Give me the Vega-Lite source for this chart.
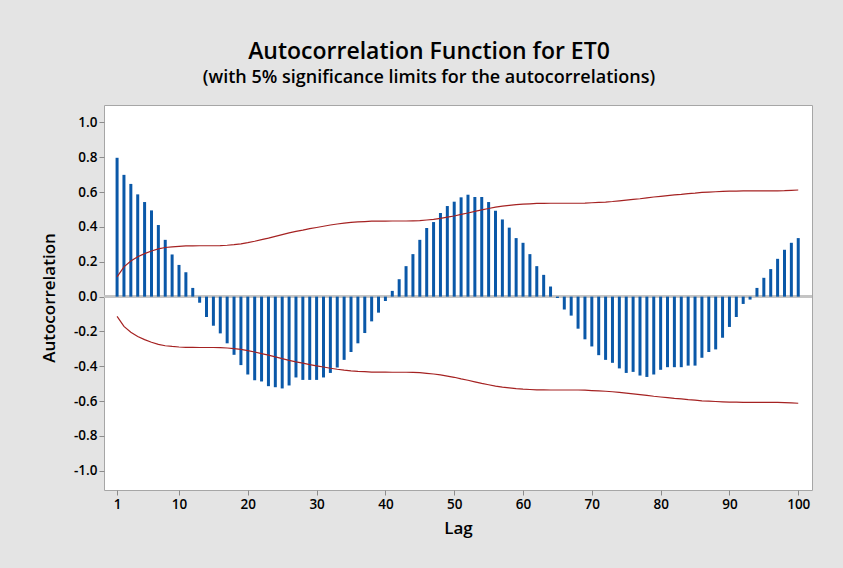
{
  "$schema": "https://vega.github.io/schema/vega-lite/v6.json",
  "width": 708,
  "height": 385,
  "autosize": {"type": "none"},
  "padding": {"left": 104, "top": 105, "right": 31, "bottom": 78},
  "background": "#e4e4e4",
  "title": {
    "text": "Autocorrelation Function for ET0",
    "subtitle": "(with 5% significance limits for the autocorrelations)",
    "anchor": "middle",
    "dx": -29,
    "offset": 18,
    "font": "Open Sans",
    "fontSize": 23,
    "fontWeight": 600,
    "color": "black",
    "subtitleFont": "Open Sans",
    "subtitleFontSize": 18,
    "subtitleFontWeight": 600,
    "subtitleColor": "black",
    "subtitlePadding": 5
  },
  "config": {
    "view": {"fill": "white", "stroke": "#a6a6a6", "strokeWidth": 1},
    "axis": {
      "domain": false,
      "grid": false,
      "tickColor": "#8c8c8c",
      "tickSize": 5,
      "labelFont": "Open Sans",
      "labelFontSize": 13.5,
      "labelFontWeight": 600,
      "labelColor": "black",
      "labelPadding": 2,
      "labelOverlap": false,
      "titleFont": "Open Sans",
      "titleFontSize": 17,
      "titleFontWeight": 600,
      "titleColor": "black"
    }
  },
  "data": {
    "values": [
      {"lag": 1, "acf": 0.797, "upper": 0.113, "lower": -0.113},
      {"lag": 2, "acf": 0.699, "upper": 0.171, "lower": -0.171},
      {"lag": 3, "acf": 0.647, "upper": 0.204, "lower": -0.204},
      {"lag": 4, "acf": 0.587, "upper": 0.229, "lower": -0.229},
      {"lag": 5, "acf": 0.543, "upper": 0.247, "lower": -0.247},
      {"lag": 6, "acf": 0.495, "upper": 0.262, "lower": -0.262},
      {"lag": 7, "acf": 0.411, "upper": 0.274, "lower": -0.274},
      {"lag": 8, "acf": 0.326, "upper": 0.282, "lower": -0.282},
      {"lag": 9, "acf": 0.242, "upper": 0.286, "lower": -0.286},
      {"lag": 10, "acf": 0.182, "upper": 0.289, "lower": -0.289},
      {"lag": 11, "acf": 0.140, "upper": 0.291, "lower": -0.291},
      {"lag": 12, "acf": 0.050, "upper": 0.291, "lower": -0.291},
      {"lag": 13, "acf": -0.035, "upper": 0.292, "lower": -0.292},
      {"lag": 14, "acf": -0.117, "upper": 0.292, "lower": -0.292},
      {"lag": 15, "acf": -0.167, "upper": 0.292, "lower": -0.292},
      {"lag": 16, "acf": -0.211, "upper": 0.293, "lower": -0.293},
      {"lag": 17, "acf": -0.268, "upper": 0.295, "lower": -0.295},
      {"lag": 18, "acf": -0.334, "upper": 0.298, "lower": -0.298},
      {"lag": 19, "acf": -0.393, "upper": 0.303, "lower": -0.303},
      {"lag": 20, "acf": -0.447, "upper": 0.310, "lower": -0.310},
      {"lag": 21, "acf": -0.480, "upper": 0.318, "lower": -0.318},
      {"lag": 22, "acf": -0.487, "upper": 0.327, "lower": -0.327},
      {"lag": 23, "acf": -0.514, "upper": 0.336, "lower": -0.336},
      {"lag": 24, "acf": -0.520, "upper": 0.346, "lower": -0.346},
      {"lag": 25, "acf": -0.527, "upper": 0.356, "lower": -0.356},
      {"lag": 26, "acf": -0.510, "upper": 0.366, "lower": -0.366},
      {"lag": 27, "acf": -0.464, "upper": 0.375, "lower": -0.375},
      {"lag": 28, "acf": -0.478, "upper": 0.382, "lower": -0.382},
      {"lag": 29, "acf": -0.478, "upper": 0.390, "lower": -0.390},
      {"lag": 30, "acf": -0.478, "upper": 0.397, "lower": -0.397},
      {"lag": 31, "acf": -0.464, "upper": 0.404, "lower": -0.404},
      {"lag": 32, "acf": -0.438, "upper": 0.411, "lower": -0.411},
      {"lag": 33, "acf": -0.407, "upper": 0.417, "lower": -0.417},
      {"lag": 34, "acf": -0.363, "upper": 0.422, "lower": -0.422},
      {"lag": 35, "acf": -0.318, "upper": 0.426, "lower": -0.426},
      {"lag": 36, "acf": -0.268, "upper": 0.429, "lower": -0.429},
      {"lag": 37, "acf": -0.209, "upper": 0.431, "lower": -0.431},
      {"lag": 38, "acf": -0.142, "upper": 0.433, "lower": -0.433},
      {"lag": 39, "acf": -0.092, "upper": 0.433, "lower": -0.433},
      {"lag": 40, "acf": -0.025, "upper": 0.433, "lower": -0.433},
      {"lag": 41, "acf": 0.033, "upper": 0.434, "lower": -0.434},
      {"lag": 42, "acf": 0.100, "upper": 0.434, "lower": -0.434},
      {"lag": 43, "acf": 0.175, "upper": 0.434, "lower": -0.434},
      {"lag": 44, "acf": 0.244, "upper": 0.435, "lower": -0.435},
      {"lag": 45, "acf": 0.326, "upper": 0.436, "lower": -0.436},
      {"lag": 46, "acf": 0.394, "upper": 0.440, "lower": -0.440},
      {"lag": 47, "acf": 0.428, "upper": 0.444, "lower": -0.444},
      {"lag": 48, "acf": 0.480, "upper": 0.449, "lower": -0.449},
      {"lag": 49, "acf": 0.520, "upper": 0.456, "lower": -0.456},
      {"lag": 50, "acf": 0.545, "upper": 0.463, "lower": -0.463},
      {"lag": 51, "acf": 0.570, "upper": 0.472, "lower": -0.472},
      {"lag": 52, "acf": 0.585, "upper": 0.480, "lower": -0.480},
      {"lag": 53, "acf": 0.572, "upper": 0.489, "lower": -0.489},
      {"lag": 54, "acf": 0.572, "upper": 0.498, "lower": -0.498},
      {"lag": 55, "acf": 0.543, "upper": 0.506, "lower": -0.506},
      {"lag": 56, "acf": 0.493, "upper": 0.514, "lower": -0.514},
      {"lag": 57, "acf": 0.443, "upper": 0.520, "lower": -0.520},
      {"lag": 58, "acf": 0.396, "upper": 0.524, "lower": -0.524},
      {"lag": 59, "acf": 0.336, "upper": 0.528, "lower": -0.528},
      {"lag": 60, "acf": 0.309, "upper": 0.531, "lower": -0.531},
      {"lag": 61, "acf": 0.244, "upper": 0.533, "lower": -0.533},
      {"lag": 62, "acf": 0.175, "upper": 0.535, "lower": -0.535},
      {"lag": 63, "acf": 0.125, "upper": 0.535, "lower": -0.535},
      {"lag": 64, "acf": 0.058, "upper": 0.536, "lower": -0.536},
      {"lag": 65, "acf": -0.008, "upper": 0.536, "lower": -0.536},
      {"lag": 66, "acf": -0.074, "upper": 0.536, "lower": -0.536},
      {"lag": 67, "acf": -0.109, "upper": 0.536, "lower": -0.536},
      {"lag": 68, "acf": -0.184, "upper": 0.536, "lower": -0.536},
      {"lag": 69, "acf": -0.245, "upper": 0.537, "lower": -0.537},
      {"lag": 70, "acf": -0.286, "upper": 0.539, "lower": -0.539},
      {"lag": 71, "acf": -0.336, "upper": 0.541, "lower": -0.541},
      {"lag": 72, "acf": -0.363, "upper": 0.543, "lower": -0.543},
      {"lag": 73, "acf": -0.380, "upper": 0.546, "lower": -0.546},
      {"lag": 74, "acf": -0.412, "upper": 0.550, "lower": -0.550},
      {"lag": 75, "acf": -0.438, "upper": 0.554, "lower": -0.554},
      {"lag": 76, "acf": -0.432, "upper": 0.558, "lower": -0.558},
      {"lag": 77, "acf": -0.453, "upper": 0.562, "lower": -0.562},
      {"lag": 78, "acf": -0.461, "upper": 0.567, "lower": -0.567},
      {"lag": 79, "acf": -0.447, "upper": 0.572, "lower": -0.572},
      {"lag": 80, "acf": -0.420, "upper": 0.576, "lower": -0.576},
      {"lag": 81, "acf": -0.405, "upper": 0.580, "lower": -0.580},
      {"lag": 82, "acf": -0.405, "upper": 0.584, "lower": -0.584},
      {"lag": 83, "acf": -0.405, "upper": 0.587, "lower": -0.587},
      {"lag": 84, "acf": -0.396, "upper": 0.591, "lower": -0.591},
      {"lag": 85, "acf": -0.396, "upper": 0.594, "lower": -0.594},
      {"lag": 86, "acf": -0.351, "upper": 0.598, "lower": -0.598},
      {"lag": 87, "acf": -0.318, "upper": 0.600, "lower": -0.600},
      {"lag": 88, "acf": -0.303, "upper": 0.602, "lower": -0.602},
      {"lag": 89, "acf": -0.236, "upper": 0.604, "lower": -0.604},
      {"lag": 90, "acf": -0.174, "upper": 0.606, "lower": -0.606},
      {"lag": 91, "acf": -0.117, "upper": 0.606, "lower": -0.606},
      {"lag": 92, "acf": -0.042, "upper": 0.607, "lower": -0.607},
      {"lag": 93, "acf": -0.017, "upper": 0.607, "lower": -0.607},
      {"lag": 94, "acf": 0.050, "upper": 0.607, "lower": -0.607},
      {"lag": 95, "acf": 0.108, "upper": 0.607, "lower": -0.607},
      {"lag": 96, "acf": 0.158, "upper": 0.607, "lower": -0.607},
      {"lag": 97, "acf": 0.217, "upper": 0.607, "lower": -0.607},
      {"lag": 98, "acf": 0.269, "upper": 0.608, "lower": -0.608},
      {"lag": 99, "acf": 0.309, "upper": 0.610, "lower": -0.610},
      {"lag": 100, "acf": 0.336, "upper": 0.612, "lower": -0.612}
    ]
  },
  "encoding": {
    "x": {
      "field": "lag",
      "type": "quantitative",
      "title": "Lag",
      "scale": {"domain": [-0.9, 102], "nice": false, "zero": false},
      "axis": {"values": [1, 10, 20, 30, 40, 50, 60, 70, 80, 90, 100], "labelOverlap": false, "titlePadding": 10}
    }
  },
  "layer": [
    {
      "mark": {"type": "rule", "color": "#c4c4c4", "strokeWidth": 2},
      "encoding": {
        "x": null,
        "y": {
          "datum": 0,
          "type": "quantitative",
          "title": "Autocorrelation",
          "axis": {"values": [-1, -0.8, -0.6, -0.4, -0.2, 0, 0.2, 0.4, 0.6, 0.8, 1], "labelExpr": "replace(format(datum.value, '.1f'), '\u2212', '-')", "labelOverlap": false, "titlePadding": 15}
        }
      }
    },
    {
      "mark": {"type": "rule", "color": "#0a58a8", "strokeWidth": 3},
      "encoding": {
        "y": {
          "field": "acf",
          "type": "quantitative",
          "title": "Autocorrelation",
          "scale": {"domain": [-1.11, 1.1], "nice": false},
          "axis": {"values": [-1, -0.8, -0.6, -0.4, -0.2, 0, 0.2, 0.4, 0.6, 0.8, 1], "labelExpr": "replace(format(datum.value, '.1f'), '\u2212', '-')", "labelOverlap": false, "titlePadding": 15}
        },
        "y2": {"datum": 0}
      }
    },
    {
      "mark": {"type": "line", "color": "#a52222", "strokeWidth": 1.2},
      "encoding": {
        "y": {
          "field": "upper",
          "type": "quantitative",
          "title": "Autocorrelation",
          "axis": {"values": [-1, -0.8, -0.6, -0.4, -0.2, 0, 0.2, 0.4, 0.6, 0.8, 1], "labelExpr": "replace(format(datum.value, '.1f'), '\u2212', '-')", "labelOverlap": false, "titlePadding": 15}
        }
      }
    },
    {
      "mark": {"type": "line", "color": "#a52222", "strokeWidth": 1.2},
      "encoding": {
        "y": {
          "field": "lower",
          "type": "quantitative",
          "title": "Autocorrelation",
          "axis": {"values": [-1, -0.8, -0.6, -0.4, -0.2, 0, 0.2, 0.4, 0.6, 0.8, 1], "labelExpr": "replace(format(datum.value, '.1f'), '\u2212', '-')", "labelOverlap": false, "titlePadding": 15}
        }
      }
    }
  ]
}
